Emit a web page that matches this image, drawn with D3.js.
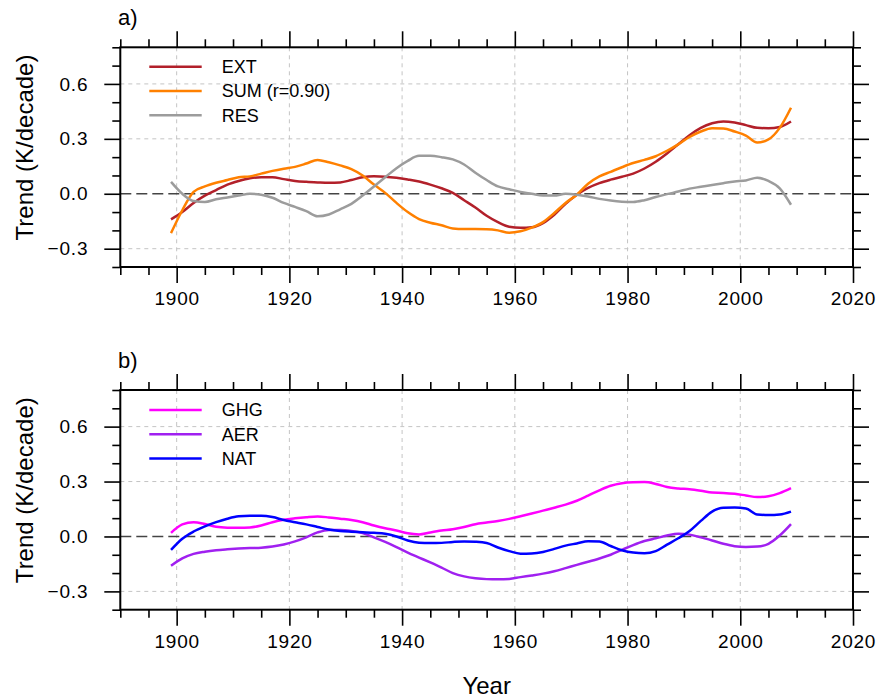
<!DOCTYPE html>
<html>
<head>
<meta charset="utf-8">
<script src="https://cdn.jsdelivr.net/npm/d3@7/dist/d3.min.js"></script>
<style>
  body { margin: 0; background: #fff; }
  text { font-family: "Liberation Sans", Arial, Helvetica, sans-serif; }
</style>
</head>
<body>
<div id="chart"></div>
<script>
// years (every second year, 1899-2009)
const years = [1899,1901,1903,1905,1907,1909,1911,1913,1915,1917,1919,1921,1923,1925,1927,1929,
  1931,1933,1935,1937,1939,1941,1943,1945,1947,1949,1951,1953,1955,1957,1959,1961,1963,1965,
  1967,1969,1971,1973,1975,1977,1979,1981,1983,1985,1987,1989,1991,1993,1995,1997,1999,2001,
  2003,2005,2007,2009];

/** panel a */
const ext = [-0.14,-0.10,-0.05,-0.01,0.02,0.05,0.07,0.085,0.09,0.09,0.08,0.07,0.065,0.062,0.06,0.062,
  0.075,0.09,0.095,0.093,0.087,0.078,0.067,0.05,0.03,0.005,-0.035,-0.075,-0.12,-0.155,-0.18,-0.186,
  -0.183,-0.16,-0.115,-0.055,-0.005,0.032,0.058,0.077,0.093,0.11,0.138,0.175,0.22,0.27,0.32,0.36,
  0.385,0.395,0.389,0.375,0.36,0.358,0.365,0.395];
const sum = [-0.215,-0.09,0.01,0.04,0.06,0.075,0.09,0.095,0.11,0.125,0.137,0.147,0.165,0.185,0.172,0.155,
  0.135,0.1,0.05,0.005,-0.05,-0.1,-0.138,-0.158,-0.172,-0.19,-0.193,-0.193,-0.194,-0.2,-0.213,-0.205,
  -0.185,-0.155,-0.105,-0.05,-0.005,0.055,0.095,0.12,0.145,0.168,0.185,0.205,0.235,0.27,0.31,0.34,
  0.358,0.357,0.34,0.318,0.28,0.297,0.36,0.47];
const res = [0.065,0.0,-0.04,-0.045,-0.03,-0.02,-0.01,0.0,-0.005,-0.022,-0.05,-0.072,-0.095,-0.123,-0.113,-0.085,
  -0.055,-0.01,0.04,0.09,0.14,0.18,0.207,0.207,0.2,0.188,0.16,0.115,0.075,0.04,0.025,0.01,
  0.0,-0.01,-0.01,0.0,-0.005,-0.015,-0.028,-0.037,-0.043,-0.045,-0.035,-0.018,-0.002,0.012,0.028,0.038,
  0.048,0.058,0.067,0.073,0.088,0.07,0.03,-0.06];

/** panel b */
const ghg = [0.02,0.066,0.078,0.068,0.053,0.048,0.047,0.049,0.06,0.078,0.091,0.099,0.105,0.109,0.104,0.097,
  0.09,0.078,0.06,0.045,0.033,0.017,0.011,0.022,0.032,0.04,0.052,0.067,0.076,0.085,0.096,0.11,
  0.125,0.141,0.157,0.174,0.195,0.223,0.252,0.277,0.291,0.296,0.297,0.287,0.27,0.262,0.258,0.25,
  0.24,0.238,0.233,0.224,0.215,0.22,0.237,0.264];
const aer = [-0.16,-0.12,-0.095,-0.083,-0.075,-0.07,-0.066,-0.063,-0.061,-0.055,-0.044,-0.027,-0.005,0.022,0.036,0.036,
  0.03,0.018,-0.005,-0.03,-0.058,-0.088,-0.115,-0.142,-0.17,-0.2,-0.218,-0.228,-0.233,-0.234,-0.232,-0.222,
  -0.213,-0.203,-0.19,-0.173,-0.155,-0.138,-0.12,-0.1,-0.073,-0.047,-0.025,-0.01,0.005,0.015,0.01,-0.005,
  -0.022,-0.04,-0.053,-0.057,-0.055,-0.04,0.005,0.067];
const nat = [-0.073,-0.012,0.027,0.055,0.078,0.097,0.11,0.113,0.113,0.106,0.09,0.078,0.066,0.052,0.038,0.03,
  0.026,0.023,0.02,0.015,0.0,-0.022,-0.034,-0.036,-0.035,-0.03,-0.027,-0.029,-0.036,-0.06,-0.08,-0.094,
  -0.093,-0.085,-0.068,-0.05,-0.038,-0.026,-0.027,-0.052,-0.075,-0.088,-0.092,-0.08,-0.045,-0.01,0.03,0.085,
  0.136,0.157,0.158,0.153,0.12,0.117,0.12,0.136];

// ticks
const xMajor = [1900,1920,1940,1960,1980,2000,2020];
const xMinor = [1890,1895,1905,1910,1915,1925,1930,1935,1945,1950,1955,1965,1970,1975,1985,1990,1995,2005,2010,2015];
const yMajor = [-0.3,0.0,0.3,0.6];
const yMinor = [-0.4,-0.2,-0.1,0.1,0.2,0.4,0.5,0.7,0.8];
const xGrid = [1900,1920,1940,1960,1980,2000];
const yGrid = [-0.3,0.3,0.6];

const panelLabels = ["a)", "b)"];
const seriesNames = [["EXT", "SUM (r=0.90)", "RES"], ["GHG", "AER", "NAT"]];
const seriesColors = [["#b2202a", "#ff8000", "#9c9c9c"], ["#ff00ff", "#a020f0", "#0000ff"]];
const seriesData = [[ext, sum, res], [ghg, aer, nat]];

drawChart();

function drawChart() {
  const w = 880, h = 697;
  const left = 120.3, right = 853;
  const tops = [47.3, 390];
  const ph = 219.7;

  const svg = d3.select("#chart").append("svg")
    .attr("width", w).attr("height", h);

  const xScale = d3.scaleLinear().domain([1890, 2020]).range([0, right - left]);
  const yScale = d3.scaleLinear().domain([-0.4, 0.8]).range([ph, 0]);

  tops.forEach(function(top, p) {
    const g = svg.append("g").attr("transform", "translate(" + left + "," + top + ")");
    const width = right - left;

    // grid
    g.selectAll("line.vgrid").data(xGrid).enter().append("line")
      .attr("x1", d => xScale(d)).attr("x2", d => xScale(d))
      .attr("y1", 0).attr("y2", ph)
      .attr("stroke", "#c4c4c4").attr("stroke-width", 1).attr("stroke-dasharray", "4,4");
    g.selectAll("line.hgrid").data(yGrid).enter().append("line")
      .attr("x1", 0).attr("x2", width)
      .attr("y1", d => yScale(d)).attr("y2", d => yScale(d))
      .attr("stroke", "#c4c4c4").attr("stroke-width", 1).attr("stroke-dasharray", "4,4");

    // zero line
    g.append("line")
      .attr("x1", 0).attr("x2", width)
      .attr("y1", yScale(0)).attr("y2", yScale(0))
      .attr("stroke", "#444").attr("stroke-width", 1.5).attr("stroke-dasharray", "11,5");

    // series
    const line = d3.line()
      .x((d, i) => xScale(years[i]))
      .y(d => yScale(d))
      .curve(d3.curveMonotoneX);
    seriesData[p].forEach(function(vals, k) {
      g.append("path").datum(vals)
        .attr("d", line)
        .attr("fill", "none")
        .attr("stroke", seriesColors[p][k])
        .attr("stroke-width", 2.5)
        .attr("stroke-linejoin", "round");
    });

    // legend
    seriesNames[p].forEach(function(name, k) {
      const ly = (p === 0 ? 66.7 : 410) - top + k * 24.3;
      g.append("line")
        .attr("x1", 149.3 - left).attr("x2", 201.7 - left)
        .attr("y1", ly).attr("y2", ly)
        .attr("stroke", seriesColors[p][k]).attr("stroke-width", 2.5);
      g.append("text")
        .attr("x", 221.7 - left).attr("y", ly + 6.4)
        .attr("font-size", 18).text(name);
    });

    // axes
    const axes = [
      [d3.axisBottom(xScale), "translate(0," + ph + ")", xMajor, xMinor, true],
      [d3.axisTop(xScale), "translate(0,0)", xMajor, xMinor, false],
      [d3.axisLeft(yScale), "translate(0,0)", yMajor, yMinor, true],
      [d3.axisRight(yScale), "translate(" + width + ",0)", yMajor, yMinor, false]
    ];
    axes.forEach(function(a, i) {
      const isX = i < 2;
      const major = a[0].tickValues(a[2]).tickSize(16).tickPadding(isX ? 9 : 16)
        .tickFormat(a[4] ? (isX ? d3.format("d") : d3.format(".1f")) : "");
      const ga = g.append("g").attr("transform", a[1]).call(major);
      ga.select(".domain").remove();
      ga.selectAll("line").attr("stroke", "#000").attr("stroke-width", 1.6);
      ga.selectAll("text").attr("font-size", 19).attr("letter-spacing", 0.8)
        .attr("fill", "#000").style("font-family", '"Liberation Sans", Arial, sans-serif');

      const minorAxis = (i === 0 ? d3.axisBottom(xScale) : i === 1 ? d3.axisTop(xScale)
        : i === 2 ? d3.axisLeft(yScale) : d3.axisRight(yScale))
        .tickValues(a[3]).tickSize(8).tickFormat("");
      const gm = g.append("g").attr("transform", a[1]).call(minorAxis);
      gm.select(".domain").remove();
      gm.selectAll("line").attr("stroke", "#000").attr("stroke-width", 1.6);
    });

    // frame
    g.append("rect")
      .attr("x", 0).attr("y", 0).attr("width", width).attr("height", ph)
      .attr("fill", "none").attr("stroke", "#000").attr("stroke-width", 2);

    // panel label
    svg.append("text")
      .attr("x", 118).attr("y", top - 22)
      .attr("font-size", 22).text(panelLabels[p]);

    // y title
    svg.append("text")
      .attr("transform", "translate(32.5," + (top + 100.2) + ") rotate(-90)")
      .attr("text-anchor", "middle")
      .attr("font-size", 24).text("Trend (K/decade)");
  });

  svg.append("text")
    .attr("x", (left + right) / 2).attr("y", 693.5)
    .attr("text-anchor", "middle")
    .attr("font-size", 24).text("Year");
}
</script>
</body>
</html>
